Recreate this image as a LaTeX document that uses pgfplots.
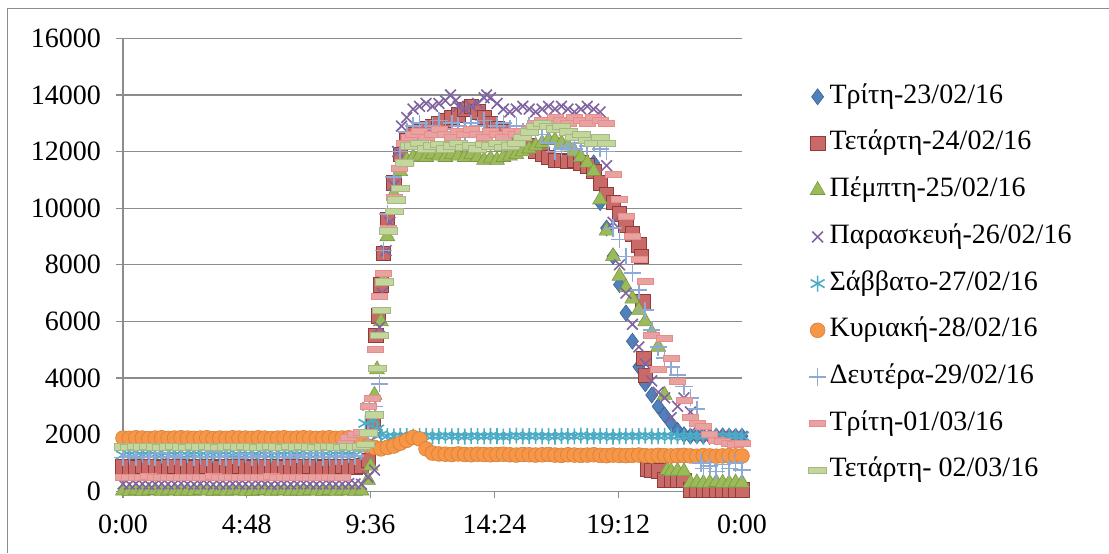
\documentclass[border=0pt]{standalone}
\usepackage{fontspec}
\setmainfont{Liberation Serif}
\usepackage{pgfplots}
\usepackage{pgfplotstable}
\pgfplotsset{compat=1.18}
\definecolor{blueS}{HTML}{4F81BD}
\definecolor{redS}{HTML}{C0504D}
\definecolor{greenS}{HTML}{9BBB59}
\definecolor{purpleS}{HTML}{8064A2}
\definecolor{tealS}{HTML}{4BACC6}
\definecolor{orangeS}{HTML}{F79646}
\definecolor{lblueS}{HTML}{8EA9D6}
\definecolor{pinkS}{HTML}{E6A3A1}
\definecolor{lgreenS}{HTML}{C3D69B}
\definecolor{gridS}{HTML}{8C8C8C}
\pgfdeclareplotmark{dashpink}{\pgfpathrectangle{\pgfpoint{-4pt}{-1.5pt}}{\pgfpoint{8pt}{3pt}}\pgfusepathqfillstroke}
\pgfdeclareplotmark{dashgreen}{\pgfpathrectangle{\pgfpoint{-4.5pt}{-1.6pt}}{\pgfpoint{9pt}{3.2pt}}\pgfusepathqfillstroke}

\pgfplotstableread{
x y
18.25 11600
18.5 10200
18.75 9300
19.0 8300
19.25 7300
19.5 6300
19.75 5300
20.0 4400
20.25 3800
20.5 3400
20.75 3000
21.0 2700
21.25 2400
21.5 2150
21.75 2000
22.0 1950
22.25 1960
22.5 1950
22.75 1940
23.0 1950
23.25 1960
23.5 1950
23.75 1940
24.0 1950
}\tabA

\pgfplotstableread{
x y
0 860
0.25 870
0.5 850
0.75 880
1 860
1.25 870
1.5 850
1.75 860
2 880
2.25 870
2.5 860
2.75 850
3 870
3.25 880
3.5 860
3.75 850
4 870
4.25 860
4.5 880
4.75 870
5 850
5.25 860
5.5 870
5.75 860
6 880
6.25 850
6.5 870
6.75 860
7 870
7.25 880
7.5 860
7.75 850
8 870
8.25 860
8.5 880
8.75 870
9 860
9.25 900
9.5 1100
9.7 2400
9.8 5500
9.9 6200
10.0 7300
10.1 8400
10.25 9600
10.5 10900
10.75 11900
11.0 12400
11.25 12600
11.5 12700
11.75 12800
12.0 12900
12.25 13000
12.5 13100
12.75 13200
13.0 13300
13.25 13500
13.5 13600
13.75 13400
14.0 13200
14.25 13000
14.5 12800
14.75 12700
15.0 12500
15.25 12400
15.5 12300
15.75 12200
16.0 12000
16.25 11900
16.5 11800
16.75 11700
17.0 11700
17.25 11650
17.5 11700
17.75 11600
18.0 11500
18.25 11300
18.5 10900
18.75 10500
19.0 10200
19.25 9800
19.5 9400
19.75 9100
20.0 8700
20.1 8300
20.15 6700
20.2 4700
20.25 4100
20.35 800
20.5 750
20.75 720
21.0 400
21.25 380
21.5 400
21.75 390
22.0 60
22.25 50
22.5 40
22.75 60
23.0 50
23.25 40
23.5 60
23.75 50
24.0 50
}\tabB

\pgfplotstableread{
x y
0 20
0.25 10
0.5 30
0.75 0
1 20
1.25 40
1.5 10
1.75 20
2 30
2.25 0
2.5 20
2.75 10
3 40
3.25 20
3.5 0
3.75 30
4 10
4.25 20
4.5 30
4.75 10
5 0
5.25 20
5.5 40
5.75 10
6 20
6.25 30
6.5 0
6.75 20
7 10
7.25 30
7.5 20
7.75 0
8 40
8.25 10
8.5 20
8.75 30
9 10
9.25 20
9.5 400
9.6 900
9.75 3400
9.85 4300
10.0 6000
10.1 7500
10.25 9000
10.5 10500
10.75 11300
11.0 11700
11.25 11800
11.5 11850
11.75 11800
12.0 11900
12.25 11850
12.5 11800
12.75 11900
13.0 11850
13.25 11800
13.5 11900
13.75 11800
14.0 11700
14.25 11750
14.5 11700
14.75 11800
15.0 11850
15.25 11900
15.5 12000
15.75 12100
16.0 12200
16.25 12300
16.5 12400
16.75 12400
17.0 12300
17.25 12200
17.5 12000
17.75 11800
18.0 11600
18.25 11300
18.5 10300
18.75 9200
19.0 8300
19.25 7600
19.5 7200
19.75 6800
20.0 6400
20.25 6000
20.5 5600
20.75 5100
21.0 3400
21.1 750
21.25 700
21.5 720
21.75 700
22.0 300
22.25 310
22.5 290
22.75 300
23.0 320
23.25 300
23.5 290
23.75 310
24.0 300
}\tabC

\pgfplotstableread{
x y
0 260
0.25 250
0.5 270
0.75 260
1 240
1.25 260
1.5 270
1.75 250
2 260
2.25 280
2.5 260
2.75 250
3 260
3.25 270
3.5 240
3.75 260
4 250
4.25 270
4.5 260
4.75 260
5 250
5.25 270
5.5 260
5.75 240
6 260
6.25 270
6.5 250
6.75 260
7 280
7.25 260
7.5 250
7.75 260
8 270
8.25 250
8.5 260
8.75 270
9 260
9.25 250
9.5 500
9.75 750
9.85 2000
9.95 5800
10.05 7000
10.2 8500
10.35 9500
10.5 10800
10.65 12000
10.8 12900
11.0 13200
11.25 13500
11.5 13600
11.75 13700
12.0 13600
12.25 13700
12.5 13800
12.7 14000
12.9 13800
13.0 13600
13.25 13500
13.5 13600
13.75 13700
14.0 13900
14.1 14000
14.25 13900
14.5 13700
14.75 13500
15.0 13400
15.25 13500
15.5 13600
15.75 13500
16.0 13400
16.25 13500
16.5 13600
16.75 13500
17.0 13600
17.25 13500
17.5 13400
17.75 13500
18.0 13600
18.25 13500
18.5 13400
18.75 11500
19.0 9500
19.25 8000
19.5 7000
19.75 5900
20.0 5100
20.25 4500
20.5 3900
20.75 3500
21.0 3300
21.25 2600
21.5 3000
21.75 3300
22.0 2800
22.25 2300
22.5 1950
22.75 1960
23.0 1940
23.25 1950
23.5 1960
23.75 1950
24.0 1940
}\tabD

\pgfplotstableread{
x y
0 1280
0.25 1300
0.5 1270
0.75 1290
1 1280
1.25 1300
1.5 1260
1.75 1280
2 1290
2.25 1270
2.5 1280
2.75 1300
3 1280
3.25 1270
3.5 1290
3.75 1280
4 1300
4.25 1270
4.5 1280
4.75 1290
5 1260
5.25 1280
5.5 1300
5.75 1280
6 1270
6.25 1290
6.5 1280
6.75 1300
7 1270
7.25 1280
7.5 1290
7.75 1280
8 1270
8.25 1300
8.5 1280
8.75 1290
9 1280
9.25 1600
9.4 2400
9.55 3000
9.7 2500
9.85 2200
10.0 2000
10.25 1950
10.5 1940
10.75 1960
11.0 1950
11.25 1930
11.5 1950
11.75 1960
12.0 1940
12.25 1950
12.5 1970
12.75 1940
13.0 1950
13.25 1930
13.5 1960
13.75 1950
14.0 1940
14.25 1960
14.5 1950
14.75 1930
15.0 1950
15.25 1970
15.5 1940
15.75 1950
16.0 1960
16.25 1940
16.5 1950
16.75 1930
17.0 1960
17.25 1950
17.5 1940
17.75 1970
18.0 1950
18.25 1940
18.5 1960
18.75 1950
19.0 1930
19.25 1950
19.5 1960
19.75 1940
20.0 1950
20.25 1970
20.5 1940
20.75 1950
21.0 1960
21.25 1940
21.5 1950
21.75 1930
22.0 1960
22.25 1950
22.5 1940
22.75 1970
23.0 1950
23.25 1940
23.5 1960
23.75 1950
24.0 1950
}\tabE

\pgfplotstableread{
x y
0 1880
0.25 1870
0.5 1890
0.75 1880
1 1860
1.25 1880
1.5 1890
1.75 1870
2 1880
2.25 1890
2.5 1880
2.75 1870
3 1880
3.25 1890
3.5 1860
3.75 1880
4 1870
4.25 1890
4.5 1880
4.75 1880
5 1870
5.25 1890
5.5 1880
5.75 1860
6 1880
6.25 1890
6.5 1870
6.75 1880
7 1890
7.25 1880
7.5 1870
7.75 1880
8 1890
8.25 1870
8.5 1880
8.75 1890
9 1880
9.25 1750
9.5 1600
9.75 1550
10.0 1500
10.25 1550
10.5 1600
10.75 1700
11.0 1800
11.25 1900
11.5 1850
11.75 1500
12.0 1350
12.25 1320
12.5 1310
12.75 1300
13.0 1320
13.25 1300
13.5 1290
13.75 1310
14.0 1300
14.25 1290
14.5 1300
14.75 1310
15.0 1290
15.25 1280
15.5 1300
15.75 1290
16.0 1280
16.25 1290
16.5 1300
16.75 1280
17.0 1270
17.25 1290
17.5 1280
17.75 1270
18.0 1280
18.25 1290
18.5 1270
18.75 1260
19.0 1280
19.25 1270
19.5 1260
19.75 1270
20.0 1280
20.25 1260
20.5 1250
20.75 1270
21.0 1260
21.25 1250
21.5 1260
21.75 1270
22.0 1250
22.25 1240
22.5 1260
22.75 1250
23.0 1240
23.25 1250
23.5 1260
23.75 1250
24.0 1250
}\tabF

\pgfplotstableread{
x y
0 1200
0.25 1250
0.5 1180
0.75 1300
1 1220
1.25 1190
1.5 1350
1.75 1210
2 1240
2.25 1180
2.5 1300
2.75 1200
3 1230
3.25 1190
3.5 1380
3.75 1220
4 1200
4.25 1260
4.5 1180
4.75 1310
5 1210
5.25 1240
5.5 1190
5.75 1350
6 1200
6.25 1220
6.5 1180
6.75 1290
7 1230
7.25 1200
7.5 1360
7.75 1210
8 1190
8.25 1250
8.5 1220
8.75 1300
9 1240
9.25 1400
9.5 2000
9.75 3000
9.95 3800
10.1 8500
10.25 9800
10.5 11100
10.75 12000
11.0 12700
11.25 12900
11.5 13000
11.75 12800
12.0 12900
12.25 13100
12.5 12800
12.75 13000
13.0 12900
13.25 12700
13.5 13000
13.75 12900
14.0 13100
14.25 12800
14.5 12900
14.75 13000
15.0 12800
15.25 12900
15.5 12700
15.75 12900
16.0 12800
16.25 12600
16.5 12300
16.75 12000
17.0 12100
17.25 12200
17.5 12100
17.75 12300
18.0 12200
18.25 12300
18.5 12100
18.75 12000
19.0 9300
19.25 8900
19.5 8300
19.75 7700
20.0 7100
20.25 6400
20.5 5700
20.75 5100
21.0 4700
21.25 4400
21.5 4100
21.75 3700
22.0 3300
22.25 2900
22.4 1000
22.5 800
22.75 900
23.0 700
23.25 950
23.5 800
23.75 1000
24.0 750
}\tabG

\pgfplotstableread{
x y
0 500
0.25 510
0.5 490
0.75 500
1 520
1.25 500
1.5 490
1.75 510
2 500
2.25 480
2.5 500
2.75 510
3 500
3.25 490
3.5 520
3.75 500
4 510
4.25 490
4.5 500
4.75 500
5 510
5.25 490
5.5 500
5.75 520
6 500
6.25 490
6.5 510
6.75 500
7 480
7.25 500
7.5 510
7.75 500
8 490
8.25 500
8.5 510
8.6 1700
8.75 1900
9.0 2000
9.25 2100
9.5 3000
9.65 3300
9.8 5000
9.95 6900
10.1 7700
10.3 9300
10.5 10400
10.7 11400
10.9 12300
11.1 12500
11.25 12600
11.5 12700
11.75 12500
12.0 12600
12.25 12800
12.5 12600
12.75 12500
13.0 12700
13.25 12600
13.5 12800
13.75 12600
14.0 12500
14.25 12700
14.5 12600
14.75 12500
15.0 12700
15.25 12600
15.5 12700
15.75 12800
16.0 13000
16.25 13100
16.5 13000
16.75 13200
17.0 13100
17.25 13000
17.5 13200
17.75 13100
18.0 13000
18.25 13200
18.5 13100
18.75 13000
19.0 11200
19.25 10300
19.5 9700
19.75 9000
20.0 8200
20.25 7400
20.5 5500
20.75 4300
21.0 5400
21.25 4700
21.5 3900
21.75 3200
22.0 2600
22.25 2400
22.5 2300
22.75 2000
23.0 1800
23.25 1750
23.5 1700
23.75 1650
24.0 1700
}\tabH

\pgfplotstableread{
x y
0 1570
0.25 1560
0.5 1580
0.75 1570
1 1590
1.25 1570
1.5 1560
1.75 1570
2 1580
2.25 1570
2.5 1560
2.75 1590
3 1570
3.25 1580
3.5 1570
3.75 1560
4 1570
4.25 1580
4.5 1570
4.75 1590
5 1570
5.25 1560
5.5 1570
5.75 1580
6 1570
6.25 1560
6.5 1580
6.75 1570
7 1590
7.25 1570
7.5 1560
7.75 1570
8 1580
8.25 1570
8.5 1560
8.75 1580
9 1570
9.25 1580
9.4 1650
9.5 2060
9.75 2700
9.85 4350
9.95 5500
10.0 6400
10.15 7400
10.3 9200
10.5 9900
10.6 10300
10.75 10700
10.9 11600
11.1 12200
11.25 12200
11.5 12300
11.75 12100
12.0 12200
12.25 12250
12.5 12100
12.75 12200
13.0 12300
13.25 12150
13.5 12200
13.75 12100
14.0 12250
14.25 12200
14.5 12300
14.75 12150
15.0 12200
15.25 12300
15.5 12500
15.75 12700
16.0 12900
16.25 13000
16.5 12900
16.75 12800
17.0 12900
17.25 12700
17.5 12500
17.75 12600
18.0 12400
18.25 12300
18.5 12500
18.75 12300
}\tabI

\begin{document}
\begin{tikzpicture}
\useasboundingbox (0,0) rectangle (554.5pt,276.5pt);
\draw[gridS, line width=0.6pt] (3.75pt,0pt) -- (3.75pt,272.25pt) -- (554.5pt,272.25pt);
\begin{axis}[
  at={(61.5pt,30.85pt)}, anchor=south west,
  width=309.5pt, height=226.5pt, scale only axis,
  xmin=0, xmax=24, ymin=0, ymax=16000,
  clip=false,
  axis x line*=bottom, axis y line*=left,
  axis line style={gridS, line width=0.6pt, -},
  xtick={0,4.8,9.6,14.4,19.2,24},
  xticklabels={0:00,4:48,9:36,14:24,19:12,0:00},
  ytick={0,2000,...,16000},
  scaled y ticks=false,
  yticklabel style={/pgf/number format/1000 sep={}, /pgf/number format/assume math mode=true, xshift=-4pt},
  xticklabel style={yshift=-5pt},
  tick label style={font=\fontsize{14}{16}\selectfont, black},
  tick align=outside, major tick length=3.5pt,
  tick style={gridS, line width=0.6pt},
  ymajorgrids, grid style={gridS, line width=0.6pt},
  legend style={draw=none, fill=none, at={(1.107,0.906)}, anchor=north west,
    font=\fontsize{14}{16}\selectfont, row sep=7.85pt, column sep=0.5pt, inner sep=0pt,
    nodes={inner sep=1pt, text height=10pt, text depth=3.5pt}},
  legend cell align=left,
  legend image code/.code={\draw[mark repeat=2,mark phase=2,#1] plot coordinates {(0pt,0pt) (5pt,0pt) (10pt,0pt)};},
]
\addplot[only marks, mark=diamond*, mark size=4pt, color=blueS, mark options={fill=blueS, draw=blueS!75!black, line width=0.3pt}] table[x=x,y=y]{\tabA};
\addlegendentry{Τρίτη-23/02/16}
\addplot[only marks, mark=square*, mark size=3.6pt, color=redS, mark options={fill=redS!85!white, draw=redS!75!black, line width=0.3pt}] table[x=x,y=y]{\tabB};
\addlegendentry{Τετάρτη-24/02/16}
\addplot[only marks, mark=triangle*, mark size=4.3pt, color=greenS, mark options={fill=greenS, draw=greenS!80!black, line width=0.3pt}] table[x=x,y=y]{\tabC};
\addlegendentry{Πέμπτη-25/02/16}
\addplot[only marks, mark=x, mark size=3.8pt, color=purpleS, mark options={line width=0.8pt}] table[x=x,y=y]{\tabD};
\addlegendentry{Παρασκευή-26/02/16}
\addplot[only marks, mark=asterisk, mark size=4pt, color=tealS, mark options={line width=0.8pt}] table[x=x,y=y]{\tabE};
\addlegendentry{Σάββατο-27/02/16}
\addplot[only marks, mark=*, mark size=3.7pt, color=orangeS, mark options={fill=orangeS, draw=orangeS!85!black, line width=0.3pt}] table[x=x,y=y]{\tabF};
\addlegendentry{Κυριακή-28/02/16}
\addplot[only marks, mark=+, mark size=4.3pt, color=lblueS, mark options={line width=0.8pt}] table[x=x,y=y]{\tabG};
\addlegendentry{Δευτέρα-29/02/16}
\addplot[only marks, mark=dashpink, color=pinkS, mark options={fill=pinkS, draw=pinkS!85!red, line width=0.3pt}] table[x=x,y=y]{\tabH};
\addlegendentry{Τρίτη-01/03/16}
\addplot[only marks, mark=dashgreen, color=lgreenS, mark options={fill=lgreenS, draw=lgreenS!85!black, line width=0.3pt}] table[x=x,y=y]{\tabI};
\addlegendentry{Τετάρτη- 02/03/16}
\end{axis}
\end{tikzpicture}
\end{document}
